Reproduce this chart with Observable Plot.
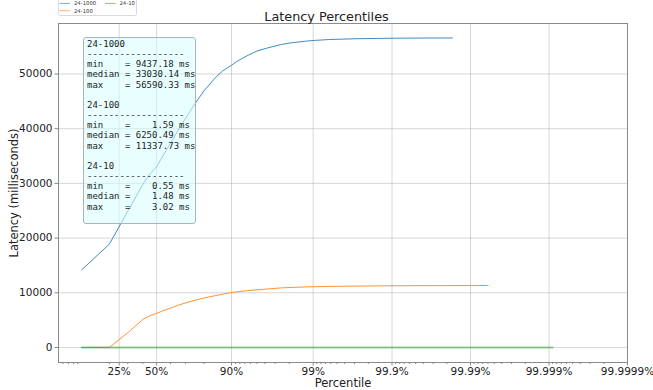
<!DOCTYPE html>
<html>
<head>
<meta charset="utf-8">
<script src="https://cdn.jsdelivr.net/npm/d3@7"></script>
<script src="https://cdn.jsdelivr.net/npm/@observablehq/plot@0.6"></script>
<style>
  html, body { margin: 0; padding: 0; background: white; }
  #wrap { position: relative; width: 653px; height: 390px; overflow: hidden; font-family: "DejaVu Sans", sans-serif; }
  #title { position: absolute; left: 0; width: 653px; top: 9px; text-align: center; font-size: 12.8px; color: #222; }
  #legend { position: absolute; left: 0; top: 0; }
  #stats { position: absolute; left: 83px; top: 37px; width: 111px; height: 185px;
           background: rgba(215, 255, 255, 0.55); border: 1px solid #a9b4b4; border-radius: 3px; }
  #stats pre { margin: 0; padding: 1px 0 0 3px; font-family: "DejaVu Sans Mono", monospace; font-size: 9px; line-height: 10.15px; color: #222; }
</style>
</head>
<body>
<div id="wrap"></div>
<script>
// ---- data ----
const seriesNames = ["24-1000", "24-100", "24-10"];
const seriesColors = ["#1f77b4", "#ff7f0e", "#2ca02c"];

const pct1000 = [10, 20, 30, 40, 45, 50, 55, 60, 65, 70, 75, 80, 85, 87.5, 90, 91.25, 92.5, 93.75, 95, 96.25, 97.5, 98.125, 98.75, 99.0625, 99.375, 99.6875, 99.84375, 99.921875, 99.9609375, 99.983];
const lat1000 = [14200, 18900, 24900, 29800, 31700, 33030, 35200, 37300, 39600, 41900, 44300, 46900, 49400, 50600, 51600, 52250, 52850, 53500, 54200, 54750, 55400, 55700, 56000, 56150, 56300, 56430, 56500, 56550, 56575, 56590.33];

const pct100 = [10, 20, 30, 40, 45, 50, 55, 60, 65, 70, 75, 80, 85, 90, 92.5, 95, 97.5, 98.75, 99.375, 99.6875, 99.84375, 99.921875, 99.9609375, 99.98046875, 99.990234375, 99.994];
const lat100 = [3, 15, 2700, 5120, 5800, 6250, 6750, 7200, 7700, 8150, 8600, 9050, 9500, 10050, 10300, 10550, 10900, 11080, 11170, 11225, 11260, 11290, 11310, 11325, 11333, 11337.73];

const pct10 = [10, 20, 30, 40, 50, 60, 70, 80, 90, 95, 97.5, 98.75, 99.375, 99.6875, 99.84375, 99.921875, 99.9609375, 99.98046875, 99.990234375, 99.9951171875, 99.99755859375, 99.9991];
const lat10 = [0.6, 0.8, 1.0, 1.3, 1.48, 1.6, 1.8, 2.0, 2.2, 2.4, 2.5, 2.6, 2.7, 2.75, 2.8, 2.85, 2.9, 2.95, 2.98, 3.0, 3.01, 3.02];

const xTickPct = [25, 50, 90, 99, 99.9, 99.99, 99.999, 99.9999];
const xTickLabels = ["25%", "50%", "90%", "99%", "99.9%", "99.99%", "99.999%", "99.9999%"];
const xMinorPct = [6, 7, 8, 9, 20, 30, 40, 60, 70, 80, 91, 92, 93, 94, 95, 96, 97, 98,
  99.1, 99.2, 99.3, 99.4, 99.5, 99.6, 99.7, 99.8,
  99.91, 99.92, 99.93, 99.94, 99.95, 99.96, 99.97, 99.98,
  99.991, 99.992, 99.993, 99.994, 99.995, 99.996, 99.997, 99.998,
  99.9991, 99.9992, 99.9993, 99.9994, 99.9995, 99.9996, 99.9997, 99.9998];
const yTicks = [0, 10000, 20000, 30000, 40000, 50000];

const statsText = [
  "24-1000",
  "------------------",
  "min    = 9437.18 ms",
  "median = 33030.14 ms",
  "max    = 56590.33 ms",
  "",
  "24-100",
  "------------------",
  "min    =    1.59 ms",
  "median = 6250.49 ms",
  "max    = 11337.73 ms",
  "",
  "24-10",
  "------------------",
  "min    =    0.55 ms",
  "median =    1.48 ms",
  "max    =    3.02 ms"
];

// ---- build ----
const logit = p => Math.log10(p / (100 - p));
const toRows = (pcts, lats) => pcts.map((p, i) => ({x: logit(p), y: lats[i]}));
const rows1000 = toRows(pct1000, lat1000);
const rows100 = toRows(pct100, lat100);
const rows10 = toRows(pct10, lat10);
const tickPos = xTickPct.map(logit);
const labelOf = new Map(tickPos.map((t, i) => [t, xTickLabels[i]]));
const minorPos = xMinorPct.map(logit);

const plot = Plot.plot({
  width: 653,
  height: 390,
  marginTop: 23,
  marginLeft: 58,
  marginRight: 26,
  marginBottom: 28,
  style: {fontFamily: "DejaVu Sans", fontSize: "10.5px", color: "#222", background: "white"},
  x: {type: "linear", domain: [-1.25, 6]},
  y: {type: "linear", domain: [-2740, 59230]},
  marks: [
    Plot.gridX(tickPos, {stroke: "#b0b0b0", strokeOpacity: 0.5, strokeWidth: 1}),
    Plot.gridY(yTicks, {stroke: "#b0b0b0", strokeOpacity: 0.5, strokeWidth: 1}),
    Plot.line(rows1000, {x: "x", y: "y", stroke: seriesColors[0], strokeWidth: 1, strokeOpacity: 0.85}),
    Plot.line(rows100, {x: "x", y: "y", stroke: seriesColors[1], strokeWidth: 1, strokeOpacity: 0.85}),
    Plot.line(rows10, {x: "x", y: "y", stroke: seriesColors[2], strokeWidth: 2, strokeOpacity: 0.5}),
    Plot.frame({stroke: "#8a8a8a", strokeWidth: 1}),
    Plot.axisX(minorPos, {tickSize: 2, tickFormat: () => "", stroke: "#8a8a8a", label: null}),
    Plot.axisX(tickPos, {tickSize: 3.5, tickPadding: 2, tickFormat: t => labelOf.get(t), stroke: "#8a8a8a", fill: "#222", fontSize: 10.5, label: null}),
    Plot.axisY(yTicks, {tickSize: 3.5, tickPadding: 2.5, tickFormat: d3.format("d"), stroke: "#8a8a8a", fill: "#222", fontSize: 10.5, label: null}),
    Plot.text(["Percentile"], {frameAnchor: "bottom", dy: 21, fontSize: 11.5, fill: "#222", lineAnchor: "middle", textAnchor: "middle"}),
    Plot.text(["Latency (milliseconds)"], {frameAnchor: "left", dx: -44, rotate: -90, fontSize: 11.5, fill: "#222", lineAnchor: "middle", textAnchor: "middle"})
  ]
});

const wrap = document.getElementById("wrap");
wrap.appendChild(plot);

const title = document.createElement("div");
title.id = "title";
title.textContent = "Latency Percentiles";
wrap.appendChild(title);

// legend (small, above plot)
const legend = d3.select(wrap).append("svg").attr("id", "legend").attr("width", 160).attr("height", 20);
legend.append("rect").attr("x", 58.5).attr("y", -3).attr("width", 78).attr("height", 18.5)
  .attr("rx", 2).attr("fill", "white").attr("stroke", "#d0d0d0").attr("stroke-width", 0.8);
const legendPos = [[59.5, 3.4], [59.5, 10.7], [105, 3.4]];
seriesNames.forEach((name, i) => {
  const [lx, ly] = legendPos[i];
  legend.append("line").attr("x1", lx).attr("x2", lx + 10.5).attr("y1", ly).attr("y2", ly)
    .attr("stroke", seriesColors[i]).attr("stroke-width", 1).attr("stroke-opacity", 0.6);
  legend.append("text").attr("x", lx + 14.5).attr("y", ly).attr("dy", "0.35em")
    .attr("font-family", "DejaVu Sans").attr("font-size", 5.3).attr("fill", "#333").text(name);
});

// stats box
const box = document.createElement("div");
box.id = "stats";
const pre = document.createElement("pre");
pre.textContent = statsText.join("\n");
box.appendChild(pre);
wrap.appendChild(box);
</script>
</body>
</html>
